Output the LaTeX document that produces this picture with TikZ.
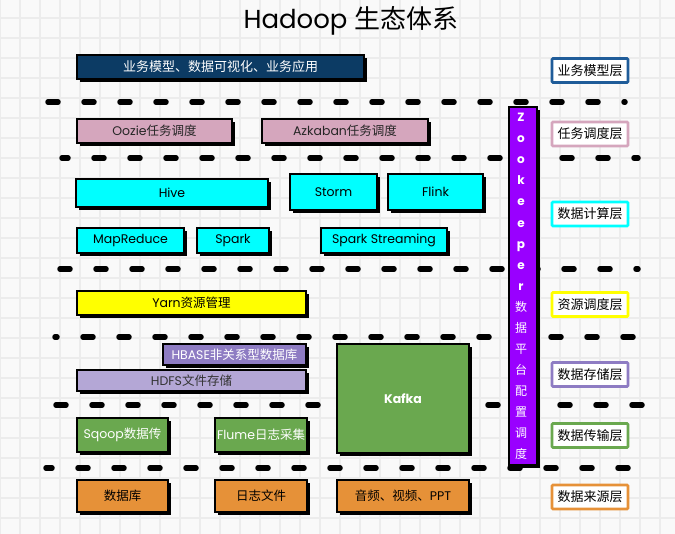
\documentclass[tikz,border=0pt]{standalone}
\usepackage{fontspec}
\setmainfont{Poppins}
\newfontfamily\cjk{Noto Sans CJK SC}
\usetikzlibrary{shadows}
\definecolor{bgc}{HTML}{F9F9F9}
\definecolor{gridc}{HTML}{ECECEC}
\definecolor{navy}{HTML}{0C3B64}
\definecolor{navyb}{HTML}{1F5C99}
\definecolor{pinkc}{HTML}{D5A6BD}
\definecolor{cyanc}{HTML}{00FFFF}
\definecolor{yelc}{HTML}{FFFF00}
\definecolor{hbasec}{HTML}{8E7CC3}
\definecolor{hdfsc}{HTML}{B4A7D6}
\definecolor{greenc}{HTML}{6AA84F}
\definecolor{orangec}{HTML}{E69138}
\definecolor{zkc}{HTML}{9900FF}
\begin{document}
\begin{tikzpicture}[x=1pt,y=-1pt,
  box/.style={draw=black, line width=1.6pt, inner sep=0pt,
    font=\fontsize{12.5}{14}\selectfont,
    general shadow={fill=black, shadow xshift=3pt, shadow yshift=-3pt}},
  layer/.style={draw=#1, line width=2.6pt, fill=white, minimum width=76pt,
    minimum height=24pt, inner sep=0pt, rounded corners=1pt,
    font=\cjk\fontsize{13}{14}\selectfont},
  sep/.style={line width=5.5pt, line cap=round, dash pattern=on 10pt off 26pt}]
\useasboundingbox (0,0) rectangle (675,534);
\fill[bgc] (0,0) rectangle (675,534);
\foreach \gx in {0,20,...,660} \draw[gridc, line width=1.2pt] (\gx,0) -- (\gx,534);
\foreach \gy in {18,38,...,518} \draw[gridc, line width=1.2pt] (0,\gy) -- (675,\gy);

% separators
\draw[sep] (48,102) -- (625,102);
\draw[sep, dash phase=4pt] (62,158) -- (638,158);
\draw[sep] (60,269) -- (638,269);
\draw[sep, dash phase=8pt] (55,337) -- (636,337);
\draw[sep] (56,405) -- (645,405);
\draw[sep, dash phase=4pt] (46,468) -- (638,468);

% title
\node (title) at (351,21) {\fontsize{26}{30}\selectfont Hadoop {\cjk 生态体系}};

% business layer
\node[box, fill=navy, text=white, minimum width=287pt, minimum height=24pt, font=\fontsize{13}{14}\selectfont] (biz) at (220.5,67) {\cjk 业务模型、数据可视化、业务应用};

% scheduling
\node[box, fill=pinkc, text=black!85, minimum width=155pt, minimum height=24pt] (oozie) at (154.5,131) {Oozie{\cjk 任务调度}};
\node[box, fill=pinkc, text=black!85, minimum width=166pt, minimum height=24pt] (azk) at (345,131) {Azkaban{\cjk 任务调度}};

% compute
\node[box, fill=cyanc, minimum width=192pt, minimum height=28pt] (hive) at (172,193) {Hive};
\node[box, fill=cyanc, minimum width=87pt, minimum height=36pt] (storm) at (333.5,192) {Storm};
\node[box, fill=cyanc, minimum width=95pt, minimum height=36pt] (flink) at (435.5,192) {Flink};
\node[box, fill=cyanc, minimum width=107pt, minimum height=25pt] (mr) at (130.5,240.5) {MapReduce};
\node[box, fill=cyanc, minimum width=72pt, minimum height=25pt] (spark) at (233,240.5) {Spark};
\node[box, fill=cyanc, minimum width=126pt, minimum height=25pt] (ss) at (384,240.5) {Spark Streaming};

% resource
\node[box, fill=yelc, minimum width=229pt, minimum height=24pt] (yarn) at (191.5,303) {Yarn{\cjk 资源管理}};

% storage
\node[box, fill=hbasec, text=white, minimum width=143pt, minimum height=21pt] (hbase) at (234.5,354.5) {HBASE{\cjk 非关系型数据库}};
\node[box, fill=hdfsc, text=black!80, minimum width=229pt, minimum height=21pt] (hdfs) at (191.5,380.5) {HDFS{\cjk 文件存储}};
\node[box, fill=greenc, text=white, minimum width=132pt, minimum height=109pt, font=\fontsize{12.5}{14}\selectfont\bfseries] (kafka) at (403,398.5) {Kafka};

% transport
\node[box, fill=greenc, text=white, minimum width=91pt, minimum height=34pt] (sqoop) at (122.5,435) {Sqoop{\cjk 数据传}};
\node[box, fill=greenc, text=white, minimum width=92pt, minimum height=34pt] (flume) at (261,435) {Flume{\cjk 日志采集}};

% sources
\node[box, fill=orangec, minimum width=91pt, minimum height=32pt] (db) at (122.5,496) {\cjk 数据库};
\node[box, fill=orangec, minimum width=92pt, minimum height=32pt] (logf) at (261,496) {\cjk 日志文件};
\node[box, fill=orangec, minimum width=132pt, minimum height=32pt] (media) at (403,496) {{\cjk 音频、视频、}PPT};

% zookeeper
\node[box, fill=zkc, minimum width=28pt, minimum height=358pt] (zk) at (523,286) {};
\node[text=white, align=center, inner sep=0pt, font=\fontsize{12}{21.06}\selectfont\bfseries] (zkt) at (521,286.5)
 {Z\\o\\o\\k\\e\\e\\p\\e\\r\\{\cjk\mdseries 数}\\{\cjk\mdseries 据}\\{\cjk\mdseries 平}\\{\cjk\mdseries 台}\\{\cjk\mdseries 配}\\{\cjk\mdseries 置}\\{\cjk\mdseries 调}\\{\cjk\mdseries 度}};

% layer labels
\node[layer=navyb] (l1) at (590,70.5) {业务模型层};
\node[layer=pinkc] (l2) at (590,134) {任务调度层};
\node[layer=cyanc] (l3) at (590,214) {数据计算层};
\node[layer=yelc] (l4) at (590,304.5) {资源调度层};
\node[layer=hbasec] (l5) at (590,374.5) {数据存储层};
\node[layer=greenc] (l6) at (590,435.5) {数据传输层};
\node[layer=orangec] (l7) at (590,497) {数据来源层};
\end{tikzpicture}
\end{document}
